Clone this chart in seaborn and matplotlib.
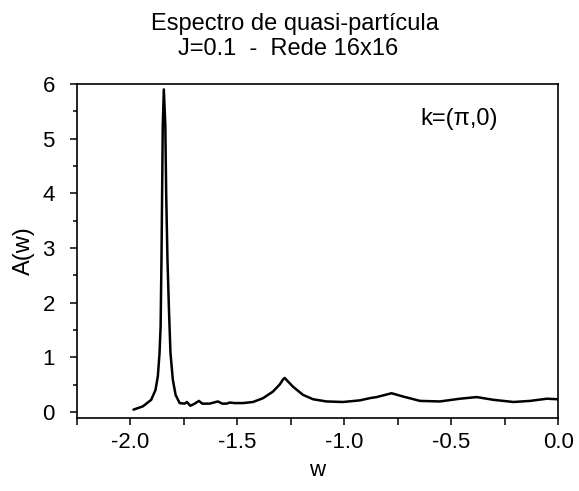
import numpy as np
import pandas as pd
import seaborn as sns
import matplotlib
matplotlib.use("Agg")
import matplotlib.pyplot as plt
from matplotlib.ticker import MultipleLocator

# spectral function A(w)
w = [-1.986, -1.942, -1.903, -1.883, -1.872, -1.864, -1.859, -1.855, -1.852,
     -1.849, -1.844, -1.837, -1.833, -1.827, -1.820, -1.813, -1.802, -1.789,
     -1.770, -1.747, -1.736, -1.720, -1.700, -1.680, -1.664, -1.630, -1.591,
     -1.571, -1.550, -1.536, -1.513, -1.474, -1.427, -1.380, -1.334, -1.302,
     -1.287, -1.279, -1.240, -1.193, -1.146, -1.083, -1.006, -0.927, -0.881,
     -0.849, -0.779, -0.725, -0.646, -0.553, -0.459, -0.381, -0.303, -0.209,
     -0.131, -0.053, 0.0]
A = [0.04, 0.10, 0.22, 0.40, 0.65, 1.08, 1.57, 2.79, 4.00,
     5.23, 5.90, 5.23, 4.00, 2.79, 1.87, 1.08, 0.59, 0.31,
     0.16, 0.15, 0.18, 0.11, 0.15, 0.20, 0.15, 0.15, 0.19,
     0.15, 0.15, 0.17, 0.16, 0.16, 0.18, 0.25, 0.37, 0.50,
     0.59, 0.62, 0.46, 0.31, 0.23, 0.19, 0.18, 0.21, 0.25,
     0.27, 0.34, 0.28, 0.20, 0.19, 0.24, 0.27, 0.22, 0.18,
     0.20, 0.24, 0.23]

title_lines = ["Espectro de quasi-partícula", "J=0.1  -  Rede 16x16"]
k_label = "k=(\u03c0,0)"

sns.set_style("ticks")
plt.rcParams['font.family'] = ['Liberation Sans', 'DejaVu Sans']
plt.rcParams['text.color'] = 'black'
plt.rcParams['axes.labelcolor'] = 'black'

df = pd.DataFrame({"w": w, "A": A})

fig = plt.figure(figsize=(5.79, 4.91), dpi=100)
ax = fig.add_axes([0.133, 0.149, 0.831, 0.680])
sns.lineplot(data=df, x="w", y="A", color="black", linewidth=1.8, ax=ax)

ax.set_xlim(-2.25, 0.0)
ax.set_ylim(-0.11, 6.0)
ax.xaxis.set_major_locator(MultipleLocator(0.5))
ax.xaxis.set_minor_locator(MultipleLocator(0.25))
ax.yaxis.set_major_locator(MultipleLocator(1))
ax.yaxis.set_minor_locator(MultipleLocator(0.5))
ax.xaxis.set_major_formatter(plt.FormatStrFormatter("%.1f"))
ax.tick_params(which="both", direction="out", labelsize=16, width=1.1,
               top=False, right=False, colors="black")
ax.tick_params(which="major", length=5)
ax.tick_params(which="minor", length=3)
ax.tick_params(axis="x", which="both", length=5, pad=5)
ax.tick_params(axis="y", which="major", pad=11)
for s in ax.spines.values():
    s.set_visible(True)
    s.set_linewidth(1.2)
    s.set_color("black")

ax.set_xlabel("w", fontsize=16, labelpad=5)
ax.set_ylabel("A(w)", fontsize=17, labelpad=5)
ax.text(0.875, 0.895, k_label, transform=ax.transAxes, fontsize=17,
        ha="right", va="center")

fig.text(0.51, 0.952, title_lines[0], fontsize=17, ha="center", va="center")
fig.text(0.497, 0.900, title_lines[1], fontsize=17, ha="center", va="center")

fig.savefig("out.png", dpi=100)
